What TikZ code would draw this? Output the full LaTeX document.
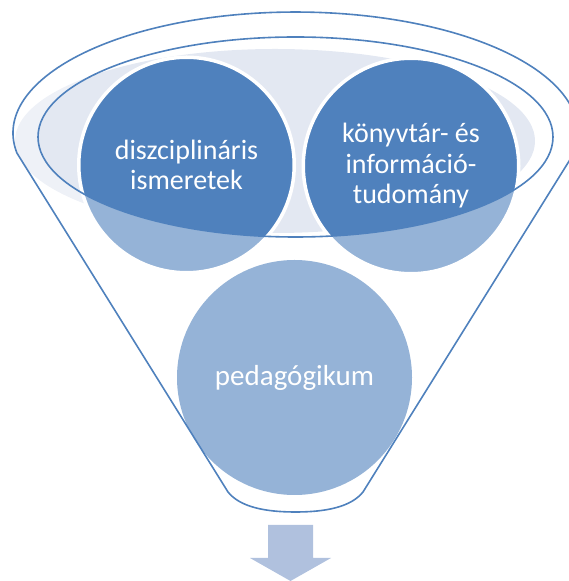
\documentclass[tikz,border=0pt]{standalone}
\usepackage{fontspec}
\setmainfont{Carlito}
\definecolor{accent}{RGB}{79,129,189}
\definecolor{lightacc}{RGB}{149,179,215}
\definecolor{rimfill}{RGB}{227,232,242}
\definecolor{arrowc}{RGB}{176,193,222}
\tikzset{
  bubble/.style={circle, fill=accent, draw=white, line width=3.5pt, text=white, align=center, inner sep=0pt,
    font=\fontsize{28}{30.5}\selectfont},
  funnelline/.style={draw=accent, line width=1.6pt},
}
\begin{document}
\begin{tikzpicture}[x=1pt,y=1pt]
\useasboundingbox (0,0) rectangle (569,581);
\clip (0,0) rectangle (569,581);
% light liquid surface
\fill[rimfill] (275,440) ellipse [x radius=260pt, y radius=92pt];
% top circles
\node[bubble, minimum size=215.5pt] (disc) at (186.5,416) {diszciplináris\\ismeretek};
\node[bubble, minimum size=215.5pt] (konyv) at (411,415) {könyvtár- és\\információ-\\tudomány};
% translucent funnel body
\fill[white, fill opacity=0.4, even odd rule]
  (16.9,428) arc[start angle=189.5, end angle=-9.5, x radius=282.5pt, y radius=121pt]
  -- (363,89) .. controls (351,74) and (326,69) .. (295.5,69)
  .. controls (265,69) and (240,74) .. (228,89) -- cycle
  (295.5,444) ellipse [x radius=257.5pt, y radius=100pt];
% bottom circle
\node[circle, fill=lightacc, inner sep=0pt, minimum size=235pt, text=white,
  font=\fontsize{29}{31}\selectfont] (ped) at (294.5,203.5) {pedagógikum};
% funnel outlines
\path[funnelline]
  (16.9,428) arc[start angle=189.5, end angle=-9.5, x radius=282.5pt, y radius=121pt]
  -- (363,89) .. controls (351,74) and (326,69) .. (295.5,69)
  .. controls (265,69) and (240,74) .. (228,89) -- cycle;
\path[funnelline] (295.5,444) ellipse [x radius=257.5pt, y radius=100pt];
% arrow
\fill[arrowc] (268,56) -- (313,56) -- (313,23) -- (331,23) -- (290.5,0) -- (250,23) -- (268,23) -- cycle;
\end{tikzpicture}
\end{document}
